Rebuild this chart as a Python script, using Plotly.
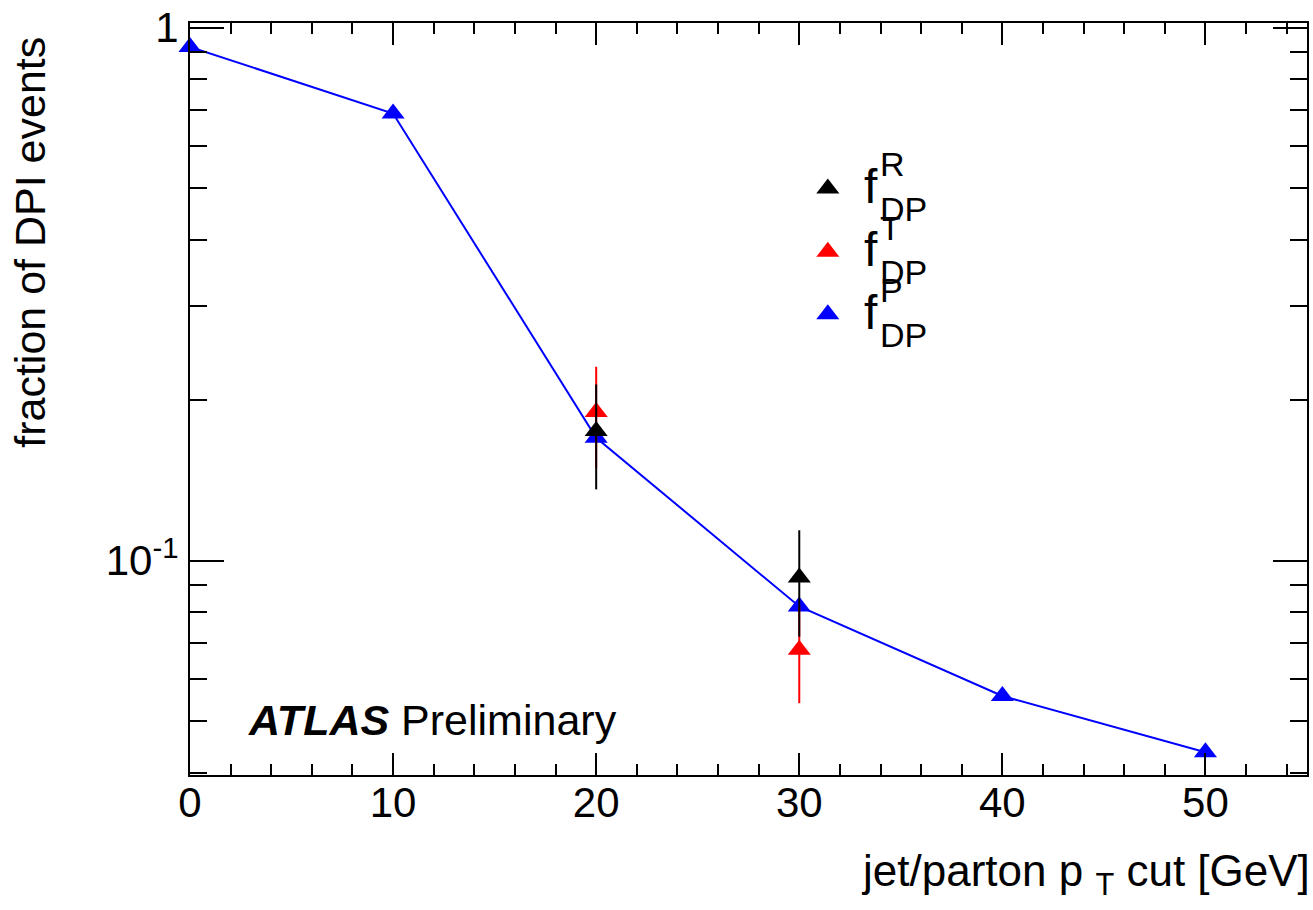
import plotly.graph_objects as go

# ---- data ----
x_cut = [0, 10, 20, 30, 40, 50]
f_P = [0.92, 0.69, 0.170, 0.082, 0.0557, 0.0437]

x_RT = [20, 30]
f_R = [0.175, 0.093]
f_R_err = [0.039, 0.021]
f_T = [0.19, 0.068]
f_T_err = [0.041, 0.014]

y_tickvals = [0.1, 1]
y_ticktext = ["10<sup>-1</sup>", "1"]
y_minor = [0.04, 0.05, 0.06, 0.07, 0.08, 0.09, 0.2, 0.3, 0.4, 0.5, 0.6, 0.7, 0.8, 0.9]

leg_labels = ["R", "T", "P"]
leg_colors = ["#000000", "#ff0000", "#0000ff"]

FONT = "Liberation Sans, Arial, Helvetica, sans-serif"
MS = 20

fig = go.Figure()

# blue P series with line
fig.add_trace(go.Scatter(
    x=x_cut, y=f_P, mode="lines+markers",
    line=dict(color="#0000ff", width=2),
    marker=dict(symbol="triangle-up", size=MS, color="#0000ff"),
    cliponaxis=False, showlegend=False))

# red T series
fig.add_trace(go.Scatter(
    x=x_RT, y=f_T, mode="markers",
    marker=dict(symbol="triangle-up", size=MS, color="#ff0000"),
    error_y=dict(type="data", array=f_T_err, color="#ff0000", thickness=2, width=0),
    cliponaxis=False, showlegend=False))

# black R series
fig.add_trace(go.Scatter(
    x=x_RT, y=f_R, mode="markers",
    marker=dict(symbol="triangle-up", size=MS, color="#000000"),
    error_y=dict(type="data", array=f_R_err, color="#000000", thickness=2, width=0),
    cliponaxis=False, showlegend=False))

# manual legend (on overlay axes spanning the plot area)
leg_x = 0.571
leg_y = [0.780, 0.6957, 0.6126]
for lab, col, yy in zip(leg_labels, leg_colors, leg_y):
    fig.add_trace(go.Scatter(
        x=[leg_x], y=[yy], xaxis="x2", yaxis="y2", mode="markers",
        marker=dict(symbol="triangle-up", size=MS, color=col),
        cliponaxis=False, showlegend=False, hoverinfo="skip"))

annotations = []
for lab, yy in zip(leg_labels, leg_y):
    annotations.append(dict(text="f", x=0.6015, y=yy + 0.003, xref="paper", yref="paper",
                            xanchor="left", yanchor="middle", showarrow=False,
                            font=dict(size=48, color="black", family=FONT)))
    annotations.append(dict(text=lab, x=0.6157, y=yy + 0.032, xref="paper", yref="paper",
                            xanchor="left", yanchor="middle", showarrow=False,
                            font=dict(size=34, color="black", family=FONT)))
    annotations.append(dict(text="DP", x=0.6157, y=yy - 0.027, xref="paper", yref="paper",
                            xanchor="left", yanchor="middle", showarrow=False,
                            font=dict(size=34, color="black", family=FONT)))

annotations.append(dict(text="<b><i>ATLAS</i></b> Preliminary", x=0.050, y=0.0725,
                        xref="paper", yref="paper", xanchor="left", yanchor="middle",
                        showarrow=False, font=dict(size=43, color="black", family=FONT)))
annotations.append(dict(text="jet/parton p <sub>T</sub> cut [GeV]", x=1.0043, y=-0.131,
                        xref="paper", yref="paper", xanchor="right", yanchor="middle",
                        showarrow=False, font=dict(size=44, color="black", family=FONT)))
annotations.append(dict(text="fraction of DPI events", x=-0.1439, y=0.984, textangle=-90,
                        xref="paper", yref="paper", xanchor="center", yanchor="top",
                        showarrow=False, font=dict(size=43, color="black", family=FONT)))

fig.update_layout(
    width=1313, height=910,
    margin=dict(l=190, r=4, t=16, b=135),
    paper_bgcolor="white", plot_bgcolor="white",
    font=dict(family=FONT, size=42, color="black"),
    annotations=annotations,
    xaxis=dict(
        range=[0, 55], showgrid=False, zeroline=False,
        showline=True, linecolor="black", linewidth=2, mirror="allticks",
        ticks="inside", ticklen=22, tickwidth=2, tickcolor="black",
        tickmode="linear", tick0=0, dtick=10,
        ticklabelstandoff=-10, ticklabeloverflow="allow",
        tickfont=dict(size=42, family=FONT, color="black"),
        minor=dict(ticks="inside", ticklen=11, tickwidth=2, tickcolor="black",
                   tickmode="linear", tick0=0, dtick=2, showgrid=False),
    ),
    yaxis=dict(
        type="log", range=[-1.4023, 0.0086], showgrid=False, zeroline=False,
        showline=True, linecolor="black", linewidth=2, mirror="allticks",
        ticks="inside", ticklen=34, tickwidth=2, tickcolor="black",
        tickmode="array", tickvals=y_tickvals, ticktext=y_ticktext,
        ticklabelstandoff=1, ticklabeloverflow="allow",
        tickfont=dict(size=42, family=FONT, color="black"),
        minor=dict(ticks="inside", ticklen=17, tickwidth=2, tickcolor="black",
                   tickmode="array", tickvals=y_minor, showgrid=False),
    ),
    xaxis2=dict(overlaying="x", range=[0, 1], visible=False, fixedrange=True),
    yaxis2=dict(overlaying="y", range=[0, 1], visible=False, fixedrange=True),
)

fig.write_html("out.html", config={"displayModeBar": False},
               post_script="document.body.style.margin='0';document.body.style.overflow='hidden';")
